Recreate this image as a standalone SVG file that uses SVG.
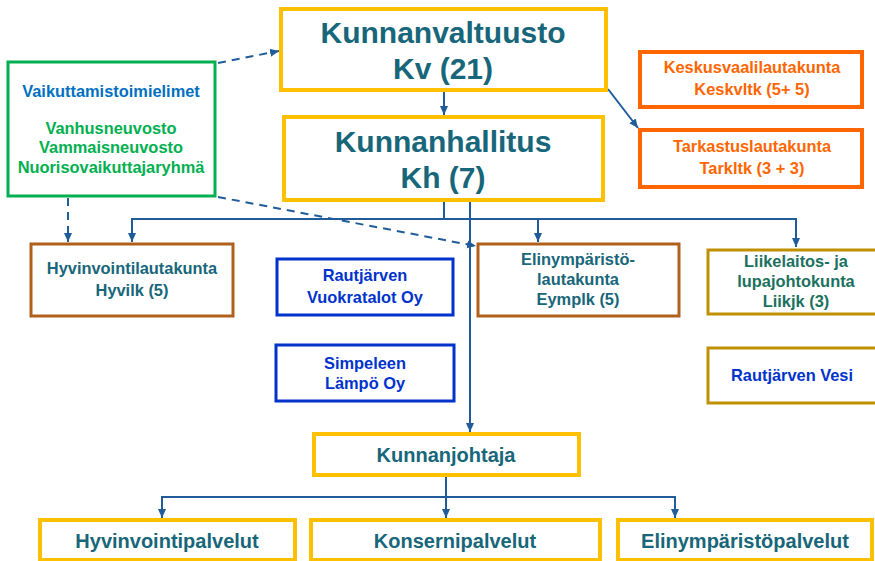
<svg xmlns="http://www.w3.org/2000/svg" width="875" height="561" viewBox="0 0 875 561">
<defs>
<marker id="ah" markerWidth="10" markerHeight="10" refX="9" refY="5" orient="auto" markerUnits="userSpaceOnUse">
<path d="M0,1 L9,5 L0,9 Z" fill="#1F5C99"/>
</marker>
<style>
text{font-family:"Liberation Sans",Arial,sans-serif;font-weight:bold;text-anchor:middle}
.box{fill:#fff}
.gold{stroke:#FFC000;stroke-width:4}
.org{stroke:#FF6600;stroke-width:4}
.brn{stroke:#B0601A;stroke-width:3}
.blu{stroke:#0033CC;stroke-width:3}
.olv{stroke:#BF9000;stroke-width:3}
.grn{stroke:#00B050;stroke-width:3}
.teal{fill:#17667A}
.big{font-size:30px}
.sm{font-size:16.4px}
.md{font-size:20px}
.c{fill:none;stroke:#1F5C99;stroke-width:2}
.d{fill:none;stroke:#1F5C99;stroke-width:2;stroke-dasharray:8 6}
</style>
</defs>
<g id="connectors">
<path class="d" d="M218,63 L279,51" marker-end="url(#ah)"/>
<path class="d" d="M68,198 L68,242" marker-end="url(#ah)"/>
<path class="d" d="M218,197 L476,246" marker-end="url(#ah)"/>
<path class="c" d="M444,91 L444,115" marker-end="url(#ah)"/>
<path class="c" d="M608,89 L638,128" marker-end="url(#ah)"/>
<path class="c" d="M444,201 L444,219 L132,219 L132,242" marker-end="url(#ah)"/>
<path class="c" d="M444,219 L796,219 L796,247" marker-end="url(#ah)"/>
<path class="c" d="M538,219 L538,242" marker-end="url(#ah)"/>
<path class="c" d="M470,201 L470,432" marker-end="url(#ah)"/>
<path class="c" d="M446,476 L446,497 L162,497 L162,518" marker-end="url(#ah)"/>
<path class="c" d="M446,497 L675,497 L675,518" marker-end="url(#ah)"/>
<path class="c" d="M446,497 L446,518" marker-end="url(#ah)"/>
</g>
<g id="kv">
<rect class="box gold" x="281" y="9" width="325" height="81"/>
<text class="big teal" x="443" y="43">Kunnanvaltuusto</text>
<text class="big teal" x="443" y="79">Kv (21)</text>
</g>
<g id="kh">
<rect class="box gold" x="284" y="117" width="319" height="83"/>
<text class="big teal" x="443" y="152">Kunnanhallitus</text>
<text class="big teal" x="443" y="188">Kh (7)</text>
</g>
<g id="vaikuttamis">
<rect class="box grn" x="8" y="62" width="207" height="134"/>
<text class="sm" fill="#0070C0" x="111" y="97">Vaikuttamistoimielimet</text>
<text class="sm" fill="#00B050" x="111" y="134">Vanhusneuvosto</text>
<text class="sm" fill="#00B050" x="111" y="153">Vammaisneuvosto</text>
<text class="sm" fill="#00B050" x="111" y="173">Nuorisovaikuttajaryhmä</text>
</g>
<g id="keskus">
<rect class="box org" x="640" y="52" width="222" height="55"/>
<text class="sm" fill="#FF6600" x="752" y="73">Keskusvaalilautakunta</text>
<text class="sm" fill="#FF6600" x="752" y="95">Keskvltk (5+ 5)</text>
</g>
<g id="tarkastus">
<rect class="box org" x="640" y="130" width="222" height="57"/>
<text class="sm" fill="#FF6600" x="752" y="152">Tarkastuslautakunta</text>
<text class="sm" fill="#FF6600" x="752" y="174">Tarkltk (3 + 3)</text>
</g>
<g id="hyvilk">
<rect class="box brn" x="31" y="244" width="202" height="72"/>
<text class="sm teal" x="132" y="274">Hyvinvointilautakunta</text>
<text class="sm teal" x="132" y="296">Hyvilk (5)</text>
</g>
<g id="vuokratalot">
<rect class="box blu" x="277" y="259" width="176" height="56"/>
<text class="sm" fill="#0033CC" x="365" y="281">Rautjärven</text>
<text class="sm" fill="#0033CC" x="365" y="303">Vuokratalot Oy</text>
</g>
<g id="lampo">
<rect class="box blu" x="276" y="345" width="178" height="56"/>
<text class="sm" fill="#0033CC" x="365" y="369">Simpeleen</text>
<text class="sm" fill="#0033CC" x="365" y="389">Lämpö Oy</text>
</g>
<g id="eymplk">
<rect class="box brn" x="478" y="244" width="201" height="72"/>
<text class="sm teal" x="578" y="265">Elinympäristö-</text>
<text class="sm teal" x="578" y="285">lautakunta</text>
<text class="sm teal" x="578" y="305">Eymplk  (5)</text>
</g>
<g id="liikjk">
<rect class="box olv" x="708" y="250" width="172" height="64"/>
<text class="sm" fill="#1B7160" x="796" y="267">Liikelaitos- ja</text>
<text class="sm" fill="#1B7160" x="796" y="287">lupajohtokunta</text>
<text class="sm" fill="#1B7160" x="796" y="307">Liikjk (3)</text>
</g>
<g id="vesi">
<rect class="box olv" x="708" y="348" width="172" height="55"/>
<text class="sm" fill="#0033CC" x="792" y="381">Rautjärven Vesi</text>
</g>
<g id="kunnanjohtaja">
<rect class="box gold" x="314" y="434" width="265" height="41"/>
<text class="md teal" x="446" y="462">Kunnanjohtaja</text>
</g>
<g id="hyvinvointipalvelut">
<rect class="box gold" x="40" y="520" width="255" height="40"/>
<text class="md teal" x="167" y="548">Hyvinvointipalvelut</text>
</g>
<g id="konsernipalvelut">
<rect class="box gold" x="311" y="520" width="289" height="40"/>
<text class="md teal" x="455" y="548">Konsernipalvelut</text>
</g>
<g id="elinymparistopalvelut">
<rect class="box gold" x="618" y="520" width="254" height="40"/>
<text class="md teal" x="745" y="548">Elinympäristöpalvelut</text>
</g>
</svg>
